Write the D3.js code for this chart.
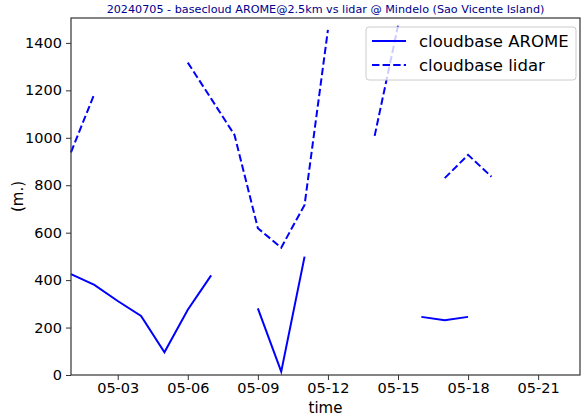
<!DOCTYPE html>
<html><head><meta charset="utf-8">
<script src="https://cdn.jsdelivr.net/npm/d3@7"></script>
<style>body{margin:0;background:#fff}svg{display:block}</style>
</head><body>
<svg id="c" width="581" height="416"></svg>
<script>
const days = ["05-01","05-02","05-03","05-04","05-05","05-06","05-07","05-08","05-09","05-10","05-11","05-12","05-13","05-14","05-15","05-16","05-17","05-18","05-19"];
const arome = [425,380,312,249,96,275,420,null,281,14,499,null,null,null,null,245,231,245,null];
const lidar = [939,1185,null,null,null,1317,1165,1012,619,537,717,1455,null,1008,1472,null,830,928,836];
const xTicks = ["05-03","05-06","05-09","05-12","05-15","05-18","05-21"];
const yTicks = [0,200,400,600,800,1000,1200,1400];

const toDate = s => new Date(Date.UTC(2024, +s.slice(0,2)-1, +s.slice(3)));
const svg = d3.select("#c");
const L=71, R=580, T=18, B=375;
const x = d3.scaleUtc().domain([toDate("05-01"), new Date(Date.UTC(2024,4,22,19))]).range([L,R]);
const y = d3.scaleLinear().domain([0,1505]).range([B,T]);
const font = "DejaVu Sans, sans-serif";

svg.append("text").attr("x",(L+R)/2).attr("y",13).attr("text-anchor","middle")
  .attr("font-family",font).attr("font-size",11.2).attr("fill","#00008b")
  .text("20240705 - basecloud AROME@2.5km vs lidar @ Mindelo (Sao Vicente Island)");

const line = d3.line().defined(d=>d.v!==null).x(d=>x(d.t)).y(d=>y(d.v));
const mk = arr => days.map((d,i)=>({t:toDate(d), v:arr[i]}));

const g = svg.append("g");
g.append("path").datum(mk(arome)).attr("d",line).attr("fill","none")
  .attr("stroke","#0000ff").attr("stroke-width",2);
g.append("path").datum(mk(lidar)).attr("d",line).attr("fill","none")
  .attr("stroke","#0000ff").attr("stroke-width",2).attr("stroke-dasharray","7.4,3.2");

// axes
const xa = svg.append("g").attr("transform",`translate(0,${B})`)
  .call(d3.axisBottom(x).tickValues(xTicks.map(toDate)).tickFormat(d3.utcFormat("%m-%d")).tickSize(5).tickPadding(3));
const ya = svg.append("g").attr("transform",`translate(${L},0)`)
  .call(d3.axisLeft(y).tickValues(yTicks).tickFormat(d3.format("d")).tickSize(5).tickPadding(4));
[xa,ya].forEach(a=>{a.select(".domain").remove();
  a.selectAll("text").attr("font-family",font).attr("font-size",14.5).attr("fill","#000");
  a.selectAll("line").attr("stroke","#333");});
svg.append("rect").attr("x",L).attr("y",T).attr("width",R-L).attr("height",B-T)
  .attr("fill","none").attr("stroke","#333").attr("stroke-width",1.2);

svg.append("text").attr("x",(L+R)/2).attr("y",413).attr("text-anchor","middle")
  .attr("font-family",font).attr("font-size",15).text("time");
svg.append("text").attr("transform",`translate(23,${(T+B)/2}) rotate(-90)`).attr("text-anchor","middle")
  .attr("font-family",font).attr("font-size",15).text("(m.)");

// legend
const lg = svg.append("g");
lg.append("rect").attr("x",366).attr("y",27).attr("width",210).attr("height",53).attr("rx",3)
  .attr("fill","#fff").attr("fill-opacity",0.8).attr("stroke","#ccc").attr("stroke-width",1);
const items = [{n:"cloudbase AROME",dash:null},{n:"cloudbase lidar",dash:"7.4,3.2"}];
items.forEach((it,i)=>{
  const yy = 41 + i*24;
  lg.append("line").attr("x1",372).attr("x2",406).attr("y1",yy).attr("y2",yy)
    .attr("stroke","#0000ff").attr("stroke-width",2).attr("stroke-dasharray",it.dash);
  lg.append("text").attr("x",419).attr("y",yy+6).attr("font-family",font).attr("font-size",16.5).text(it.n);
});
</script>
</body></html>
